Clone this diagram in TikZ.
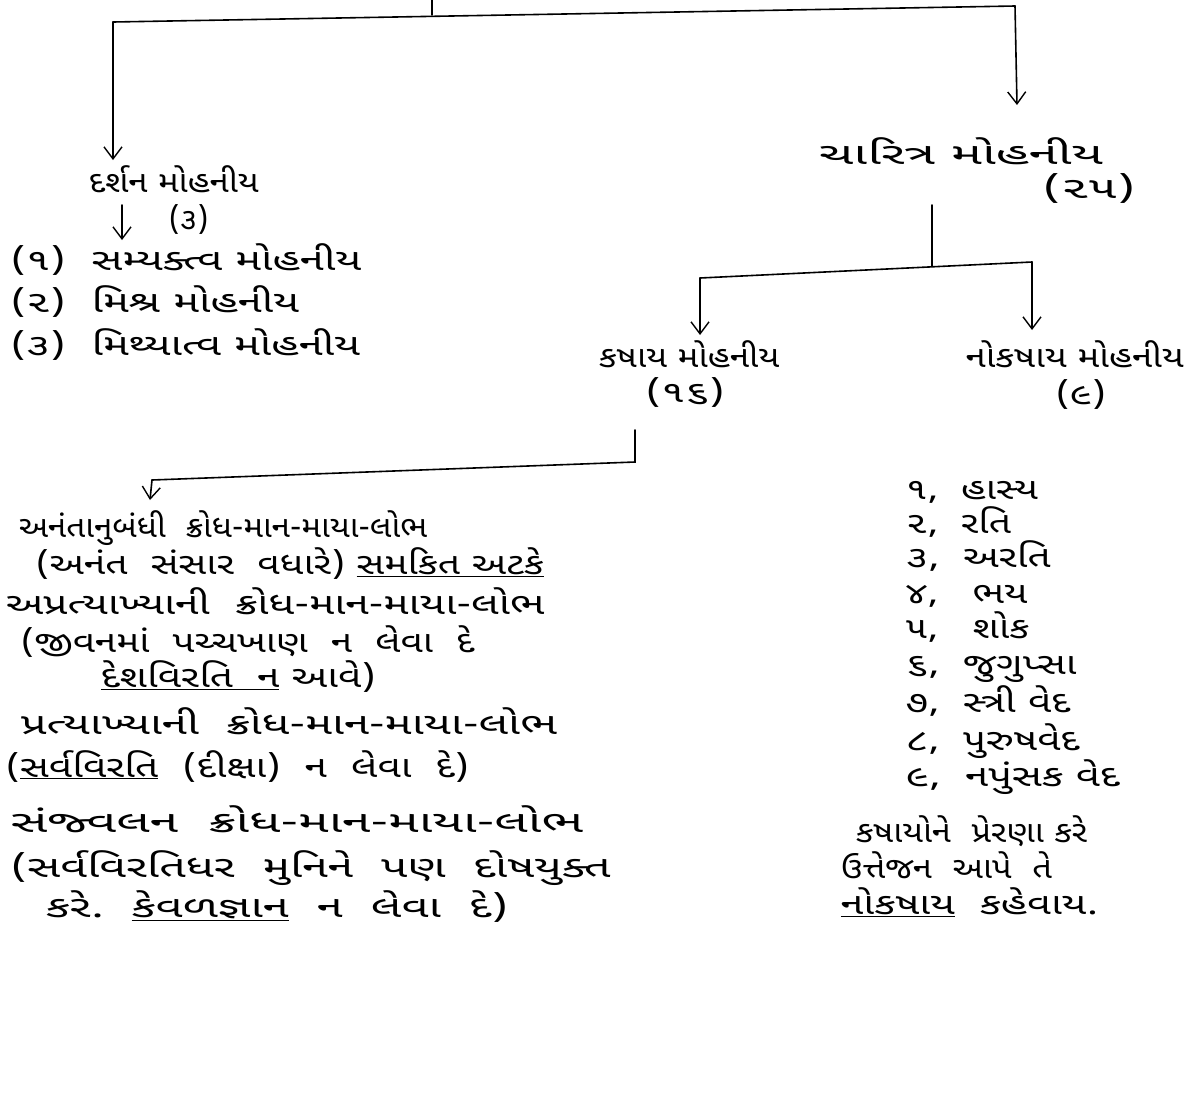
\documentclass[tikz,border=0pt]{standalone}
\usepackage{fontspec}
\usepackage{graphicx}
\newfontfamily\guj[Script=Gujarati]{Noto Sans Gujarati UI}
\usetikzlibrary{arrows.meta}
\newcommand\hs[2]{\scalebox{#1}[1]{#2}}
\begin{document}
\begin{tikzpicture}[x=1pt,y=-1pt,line width=1.6pt,line cap=round,
  txt/.style={font=\guj\fontsize{30}{34}\selectfont,inner sep=0pt,anchor=west,
    text height=20pt,text depth=8pt,yshift=-6pt},
  arr/.style={-{Straight Barb[length=12pt,width=18pt,line width=1.4pt]}}]
\useasboundingbox[fill=white] (0,0) rectangle (1188,1104);
% headings
\node[txt] (darshan) at (88,180) {\hs{1.16}{દર્શન મોહનીય}};
\node[txt] (d3) at (168,217) {\hs{1.05}{(૩)}};
\node[txt] (s1) at (10,258) {\hs{1.45}{(૧)\ \ સમ્યક્ત્વ મોહનીય}};
\node[txt] (s2) at (10,300) {\hs{1.45}{(૨)\ \ મિશ્ર મોહનીય}};
\node[txt] (s3) at (10,343) {\hs{1.45}{(૩)\ \ મિથ્યાત્વ મોહનીય}};
\node[txt] (charitra) at (818,152) {\hs{1.75}{ચારિત્ર મોહનીય}};
\node[txt] (c25) at (1042,186) {\hs{1.7}{(૨૫)}};
\node[txt] (kashay) at (598,355) {\hs{1.17}{કષાય મોહનીય}};
\node[txt] (k16) at (645,390) {\hs{1.45}{(૧૬)}};
\node[txt] (nokashay) at (965,355) {\hs{1.22}{નોકષાય મોહનીય}};
\node[txt] (n9) at (1055,392) {\hs{1.33}{(૯)}};
% kashay list
\node[txt] (a1) at (18,525) {\hs{1.11}{અનંતાનુબંધી\ \ ક્રોધ-માન-માયા-લોભ}};
\node[txt] (a2) at (35,562) {\hs{1.3}{(અનંત\ \ સંસાર\ \ વધારે)\ \underline{સમકિત અટકે}}};
\node[txt] (b1) at (5,602) {\hs{1.42}{અપ્રત્યાખ્યાની\ \ ક્રોધ-માન-માયા-લોભ}};
\node[txt] (b2) at (20,640) {\hs{1.29}{(જીવનમાં\ \ પચ્ચખાણ\ \ ન\ \ લેવા\ \ દે}};
\node[txt] (b3) at (100,675) {\hs{1.35}{\underline{દેશવિરતિ\ \ ન}\ આવે)}};
\node[txt] (p1) at (20,722) {\hs{1.52}{પ્રત્યાખ્યાની\ \ ક્રોધ-માન-માયા-લોભ}};
\node[txt] (p2) at (5,765) {\hs{1.35}{(\underline{સર્વવિરતિ}\ \ (દીક્ષા)\ \ ન\ \ લેવા\ \ દે)}};
\node[txt] (q1) at (10,820) {\hs{1.72}{સંજ્વલન\ \ ક્રોધ-માન-માયા-લોભ}};
\node[txt] (q2) at (10,865) {\hs{1.55}{(સર્વવિરતિધર\ \ મુનિને\ \ પણ\ \ દોષયુક્ત}};
\node[txt] (q3) at (45,905) {\hs{1.57}{કરે.\ \ \underline{કેવળજ્ઞાન}\ \ ન\ \ લેવા\ \ દે)}};
% nokashay list
\node[txt] (n1) at (905,487) {\hs{1.3}{૧,\ \ હાસ્ય}};
\node[txt] (n2) at (905,521) {\hs{1.3}{૨,\ \ રતિ}};
\node[txt] (n3) at (905,555) {\hs{1.35}{૩,\ \ અરતિ}};
\node[txt] (n4) at (905,591) {\hs{1.3}{૪,\ \ \ ભય}};
\node[txt] (n5) at (905,626) {\hs{1.3}{૫,\ \ \ શોક}};
\node[txt] (n6) at (905,662) {\hs{1.35}{૬,\ \ જુગુપ્સા}};
\node[txt] (n7) at (905,700) {\hs{1.35}{૭,\ \ સ્ત્રી વેદ}};
\node[txt] (n8) at (905,738) {\hs{1.35}{૮,\ \ પુરુષવેદ}};
\node[txt] (n9) at (905,774) {\hs{1.4}{૯,\ \ નપુંસક વેદ}};
\node[txt] (e1) at (855,830) {\hs{1.15}{કષાયોને\ \ પ્રેરણા કરે}};
\node[txt] (e2) at (840,866) {\hs{1.15}{ઉત્તેજન\ \ આપે\ \ તે}};
\node[txt] (e3) at (840,902) {\hs{1.38}{\underline{નોકષાય}\ \ કહેવાય.}};
% connectors
\coordinate (ts) at (432,0);
\coordinate (tj) at (432,15);
\coordinate (hl) at (113,22);
\coordinate (hlt) at (113,160);
\coordinate (hr) at (1015,6);
\coordinate (hrt) at (1017,105);
\draw (ts) -- (tj);
\draw (hl) -- (hr);
\draw[arr] (hl) -- (hlt);
\draw[arr] (hr) -- (hrt);
\coordinate (da) at (122,205);
\coordinate (db) at (122,240);
\draw[arr] (da) -- (db);
\coordinate (cv) at (932,205);
\coordinate (cj) at (932,266);
\coordinate (cl) at (700,278);
\coordinate (cr) at (1032,262);
\coordinate (clt) at (700,335);
\coordinate (crt) at (1032,330);
\draw (cv) -- (cj);
\draw (cl) -- (cr);
\draw[arr] (cl) -- (clt);
\draw[arr] (cr) -- (crt);
\coordinate (kv) at (635,430);
\coordinate (kj) at (635,462);
\coordinate (kl) at (152,480);
\coordinate (klt) at (150,500);
\draw (kv) -- (kj) -- (kl);
\draw[arr] (kl) -- (klt);
\end{tikzpicture}
\end{document}
